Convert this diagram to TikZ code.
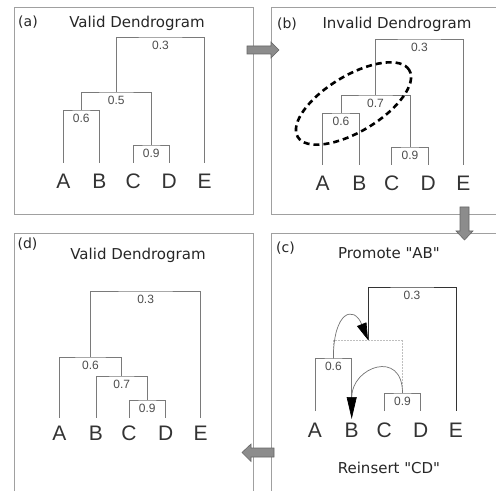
\documentclass[tikz,border=0pt]{standalone}
\usepackage{fontspec}
\setmainfont{DejaVu Sans}
\newfontfamily\headfont{DejaVu Sans}
\newfontfamily\leaffont{Liberation Sans}
\usetikzlibrary{positioning,arrows.meta}

\definecolor{framegray}{HTML}{A0A0A0}
\definecolor{linegray}{HTML}{7A7A7A}
\definecolor{blockgray}{HTML}{8C8C8C}

\begin{document}
\begin{tikzpicture}[x=1pt,y=1pt,>={Triangle[length=17pt,width=10pt,color=black]}]
\tikzset{
panel/.style={draw=framegray, line width=0.9pt},
tag/.style={font=\headfont\fontsize{14}{14}\selectfont, anchor=base, text=black!85, inner sep=0pt},
title/.style={font=\headfont\fontsize{15}{15}\selectfont, anchor=base, text=black!85, inner sep=0pt},
leaf/.style={
  font=\leaffont\fontsize{21}{21}\selectfont,
  anchor=base,
  text=black!80,
  text height=15pt,
  inner sep=0pt,
  outer ysep=#1
  },
leaf/.default=11pt,
dend/.style={draw=linegray, line width=0.8pt},
val/.style={font=\leaffont\fontsize{12}{12}\selectfont, text=black!70, inner sep=1pt},
blockarrow/.style={fill=blockgray, draw=black!60, line width=0.6pt, line join=miter},
lasso/.style={draw=black, line width=2.6pt, dash pattern=on 6pt off 4pt},
oldlink/.style={draw=black!25, line width=0.5pt, densely dotted},
move/.style={draw=black!55, line width=0.7pt, ->}
}

\useasboundingbox (0,0) rectangle (496,491);

% frames
\draw[panel] (14,277) rectangle (253,484);
\draw[panel] (496,484) -- (271,484) -- (271,277) -- (496,277);
\draw[panel] (14,0) -- (14,258) -- (253,258) -- (253,0);
\draw[panel] (496,258) -- (271,258) -- (271,0);

% (a)
\node[tag] (a-tag) at (28,464) {(a)};
\node[title] (a-title) at (137,463) {Valid Dendrogram};
\node[leaf] (aA) at (63.3,302) {A};
\node[leaf] (aB) at (99.3,302) {B};
\node[leaf] (aC) at (133.3,302) {C};
\node[leaf] (aD) at (169.3,302) {D};
\node[leaf] (aE) at (204.7,302) {E};
\coordinate (a06) at (81.3,381);
\coordinate (a09) at (151.3,346);
\coordinate (a05) at (116.3,399);
\coordinate (a03) at (160.5,454);
\draw[dend] (aA.north) |- (a06) -| (aB.north);
\draw[dend] (aC.north) |- (a09) -| (aD.north);
\draw[dend] (a06) |- (a05) -| (a09);
\draw[dend] (a05) |- (a03) -| (aE.north);
\node[val, below=3pt of a06] (a06v) {0.6};
\node[val, below=3pt of a09] (a09v) {0.9};
\node[val, below=3pt of a05] (a05v) {0.5};
\node[val, below=3pt of a03] (a03v) {0.3};

% (b)
\node[tag] (b-tag) at (287,462) {(b)};
\node[title] (b-title) at (397,462) {Invalid Dendrogram};
\node[leaf] (bA) at (322.7,300) {A};
\node[leaf] (bB) at (359.3,300) {B};
\node[leaf] (bC) at (391.7,300) {C};
\node[leaf] (bD) at (428.3,300) {D};
\node[leaf] (bE) at (463.3,300) {E};
\coordinate (b06) at (341,378);
\coordinate (b09) at (410,344);
\coordinate (b07) at (375.5,396);
\coordinate (b03) at (419.4,452);
\draw[dend] (bA.north) |- (b06) -| (bB.north);
\draw[dend] (bC.north) |- (b09) -| (bD.north);
\draw[dend] (b06) |- (b07) -| (b09);
\draw[dend] (b07) |- (b03) -| (bE.north);
\node[val, below=3pt of b06] (b06v) {0.6};
\node[val, below=3pt of b09] (b09v) {0.9};
\node[val, below=3pt of b07] (b07v) {0.7};
\node[val, below=3pt of b03] (b03v) {0.3};
\draw[lasso, rotate around={31:(353.5,387.5)}] (353.5,387.5) ellipse (65 and 28);

% (c)
\node[tag] (c-tag) at (285.5,238) {(c)};
\node[title] (c-title) at (389,233) {Promote "AB"};
\node[leaf] (cA) at (315,54) {A};
\node[leaf] (cB) at (351.7,54) {B};
\node[leaf] (cC) at (384.3,54) {C};
\node[leaf] (cD) at (420.7,54) {D};
\node[leaf] (cE) at (456,54) {E};
\coordinate (c06) at (333.4,133);
\coordinate (c09) at (402.5,98);
\coordinate (c07) at (368,151);
\coordinate (c03) at (412,204);
\draw[oldlink] (c06) |- (c07) -| (c09);
\draw[dend] (cA.north) |- (c06) -| (cB.north);
\draw[dend] (cC.north) |- (c09) -| (cD.north);
\draw[dend, draw=black!80] (c07) |- (c03) -| (cE.north);
\node[val, below=3pt of c06] (c06v) {0.6};
\node[val, below=3pt of c09] (c09v) {0.9};
\node[val, below=3pt of c03] (c03v) {0.3};
\draw[move] (c06) .. controls (333.4,180) and (354,186) .. (c07);
\draw[move, shorten >=-8pt, >={Triangle[length=22pt,width=10pt,color=black]}]
    (c09) to[out=90, in=90, looseness=2.1] (cB.north);
\node[title] (c-note) at (389,18) {Reinsert "CD"};

% (d)
\node[tag] (d-tag) at (27.5,242) {(d)};
\node[title] (d-title) at (138,232) {Valid Dendrogram};
\node[leaf=8pt] (dA) at (59.3,50.5) {A};
\node[leaf=8pt] (dB) at (96,50.5) {B};
\node[leaf=8pt] (dC) at (129,50.5) {C};
\node[leaf=8pt] (dD) at (165.7,50.5) {D};
\node[leaf=8pt] (dE) at (200.7,50.5) {E};
\coordinate (d09) at (147.3,91);
\coordinate (d07) at (121.7,115);
\coordinate (d06) at (90.5,134);
\coordinate (d03) at (145.6,200);
\draw[dend] (dC.north) |- (d09) -| (dD.north);
\draw[dend] (dB.north) |- (d07) -| (d09);
\draw[dend] (dA.north) |- (d06) -| (d07);
\draw[dend] (d06) |- (d03) -| (dE.north);
\node[val, below=3pt of d09] (d09v) {0.9};
\node[val, below=3pt of d07] (d07v) {0.7};
\node[val, below=3pt of d06] (d06v) {0.6};
\node[val, below=3pt of d03] (d03v) {0.3};

% arrows between panels
\draw[blockarrow] (247,445) -- (271,445) -- (271,449) -- (279,441) -- (271,433) -- (271,437) -- (247,437) -- cycle;
\draw[blockarrow] (460,284) -- (469,284) -- (469,260) -- (473,260) -- (464.5,251) -- (456,260) -- (460,260) -- cycle;
\draw[blockarrow] (274,43) -- (251,43) -- (251,47) -- (242,38.5) -- (251,29.5) -- (251,34) -- (274,34) -- cycle;

\end{tikzpicture}
\end{document}
